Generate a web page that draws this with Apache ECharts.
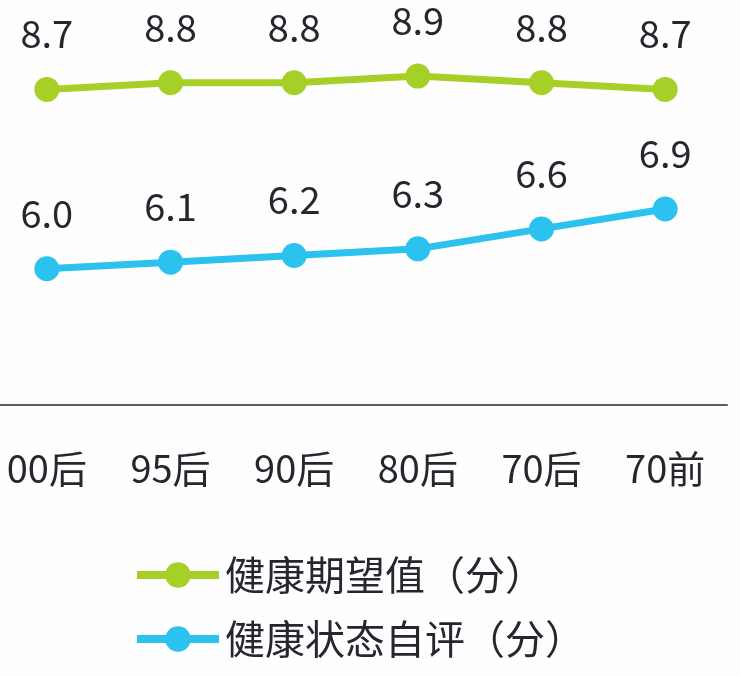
<!DOCTYPE html>
<html><head><meta charset="utf-8">
<script src="https://cdn.jsdelivr.net/npm/echarts@6/dist/echarts.min.js"></script>
<style>html,body{margin:0;padding:0;background:#fefefe;overflow:hidden;width:740px;height:676px;}#c{width:760px;height:676px;margin-left:-15px;}</style>
</head><body><div id="c"></div>
<script>
const categories = ['00后','95后','90后','80后','70后','70前'];
const seriesNames = ['健康期望值（分）','健康状态自评（分）'];
const expectValues = [8.7, 8.8, 8.8, 8.9, 8.8, 8.7];
const selfRateValues = [6.0, 6.1, 6.2, 6.3, 6.6, 6.9];
const colors = ['#a6cf28', '#2bc2ef'];
const FONT = '"Noto Sans CJK SC", "Noto Sans", sans-serif';
const TEXT = '#29252e';
const chart = echarts.init(document.getElementById('c'));
function mk(name, data, color){
  return {
    name, type:'line', data, symbol:'circle', symbolSize:25,
    itemStyle:{color}, lineStyle:{color, width:7},
    label:{show:true, position:'top', distance:24, fontSize:38, color:TEXT, fontFamily:FONT,
      formatter:p=>p.value.toFixed(1)},
    emphasis:{disabled:true}
  };
}
chart.setOption({
  backgroundColor:'#fefefe',
  animation:false,
  grid:{left:0, right:18, top:3, bottom:271},
  xAxis:{type:'category', data:categories, boundaryGap:true,
    axisLine:{lineStyle:{color:'#5c5c64', width:2}},
    axisTick:{show:false},
    axisLabel:{margin:45, fontSize:38, color:TEXT, fontFamily:FONT}},
  yAxis:{type:'value', min:3.95, max:10, show:false},
  legend:{orient:'vertical', left:143, top:550, itemWidth:82, itemHeight:32, itemGap:24,
    lineStyle:{width:8},
    textStyle:{fontSize:40, color:TEXT, fontFamily:FONT, padding:[0,0,0,1]},
    data:seriesNames},
  series:[mk(seriesNames[0], expectValues, colors[0]), mk(seriesNames[1], selfRateValues, colors[1])]
});
</script></body></html>
